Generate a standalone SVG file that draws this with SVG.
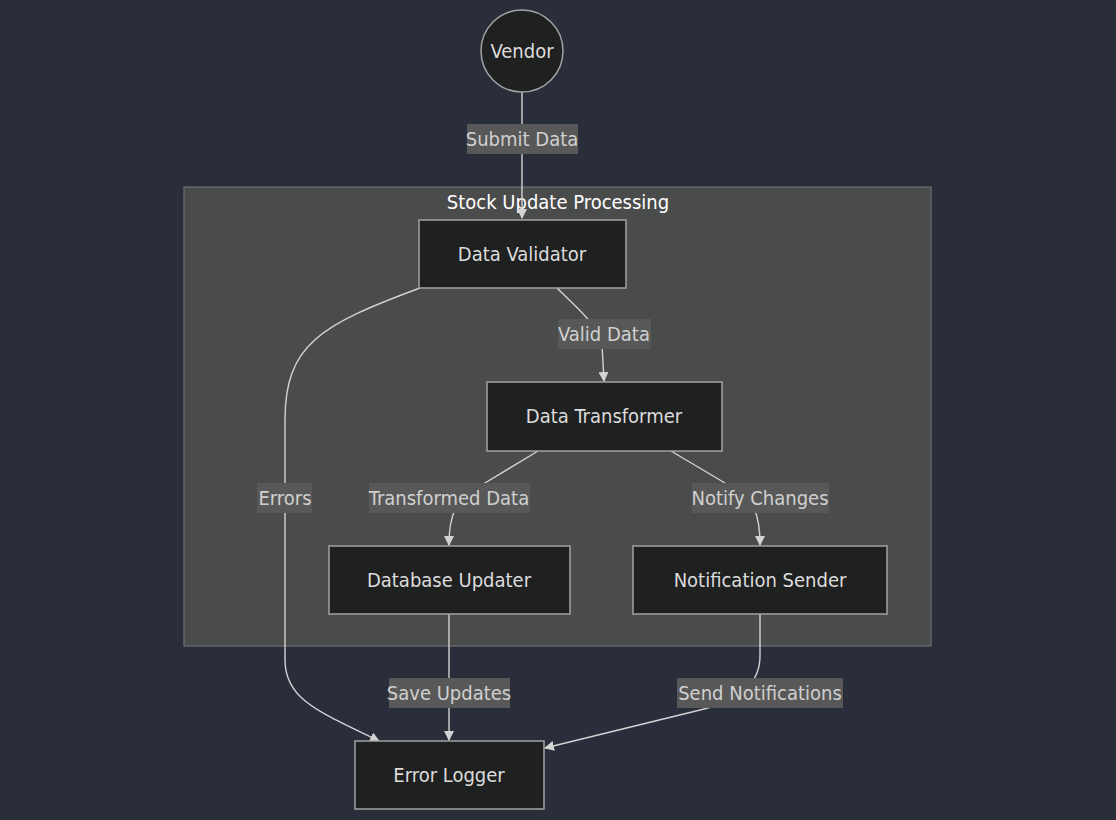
<svg xmlns="http://www.w3.org/2000/svg" width="1116" height="820" viewBox="0 0 1116 820">
<defs>
<style>
text{font-family:"DejaVu Sans Condensed","DejaVu Sans",sans-serif;font-stretch:condensed;font-size:20px;text-anchor:middle;dominant-baseline:central}
.node rect,.node circle{fill:#1f2020;stroke:#a3a3a3;stroke-width:1.5}
.node text{fill:#dcdcdc}
.edge{fill:none;stroke:#d3d3d3;stroke-width:1.4}
.lbl rect{fill:#585858}
.lbl text{fill:#d0d0d0}
</style>
<marker id="arrow" viewBox="0 0 10 10" refX="9" refY="5" markerWidth="10" markerHeight="10" markerUnits="userSpaceOnUse" orient="auto">
<path d="M0,0 L10,5 L0,10 z" fill="#d3d3d3"/>
</marker>
</defs>
<rect width="1116" height="820" fill="#2a2e3b"/>
<g id="cluster">
<rect x="184" y="187" width="747" height="459" fill="#4a4b4b" stroke="#6e6e6e" stroke-width="1.2"/>
<text x="558" y="202" fill="#ffffff">Stock Update Processing</text>
</g>
<g id="connectors">
<path class="edge" d="M522,92 L522,218" marker-end="url(#arrow)"/>
<path class="edge" d="M557,288 C575,306 596,322 602,345 L604,381" marker-end="url(#arrow)"/>
<path class="edge" d="M420,288 C320,325 285,345 285,420 L285,660 C285,700 320,712 379,741" marker-end="url(#arrow)"/>
<path class="edge" d="M538,451 L480,486 C455,500 449,515 449,545" marker-end="url(#arrow)"/>
<path class="edge" d="M671,451 L730,486 C755,500 760,515 760,545" marker-end="url(#arrow)"/>
<path class="edge" d="M449,614 L449,740" marker-end="url(#arrow)"/>
<path class="edge" d="M760,614 L760,656 C760,680 745,700 700,710 L545,748" marker-end="url(#arrow)"/>
</g>
<g id="edge-labels">
<g class="lbl"><rect x="467" y="124" width="111" height="30"/><text x="522" y="139">Submit Data</text></g>
<g class="lbl"><rect x="558" y="319" width="93" height="30"/><text x="604" y="334">Valid Data</text></g>
<g class="lbl"><rect x="257" y="483" width="55" height="30"/><text x="285" y="498">Errors</text></g>
<g class="lbl"><rect x="369" y="483" width="161" height="30"/><text x="449" y="498">Transformed Data</text></g>
<g class="lbl"><rect x="692" y="483" width="137" height="30"/><text x="760" y="498">Notify Changes</text></g>
<g class="lbl"><rect x="389" y="678" width="121" height="30"/><text x="449" y="693">Save Updates</text></g>
<g class="lbl"><rect x="677" y="678" width="166" height="30"/><text x="760" y="693">Send Notifications</text></g>
</g>
<g id="vendor" class="node"><circle cx="522" cy="51" r="41"/><text x="522" y="51">Vendor</text></g>
<g id="data-validator" class="node"><rect x="419" y="220" width="207" height="68"/><text x="522" y="254">Data Validator</text></g>
<g id="data-transformer" class="node"><rect x="487" y="382" width="235" height="69"/><text x="604" y="416">Data Transformer</text></g>
<g id="database-updater" class="node"><rect x="329" y="546" width="241" height="68"/><text x="449" y="580">Database Updater</text></g>
<g id="notification-sender" class="node"><rect x="633" y="546" width="254" height="68"/><text x="760" y="580">Notification Sender</text></g>
<g id="error-logger" class="node"><rect x="355" y="741" width="189" height="68"/><text x="449" y="775">Error Logger</text></g>
</svg>
